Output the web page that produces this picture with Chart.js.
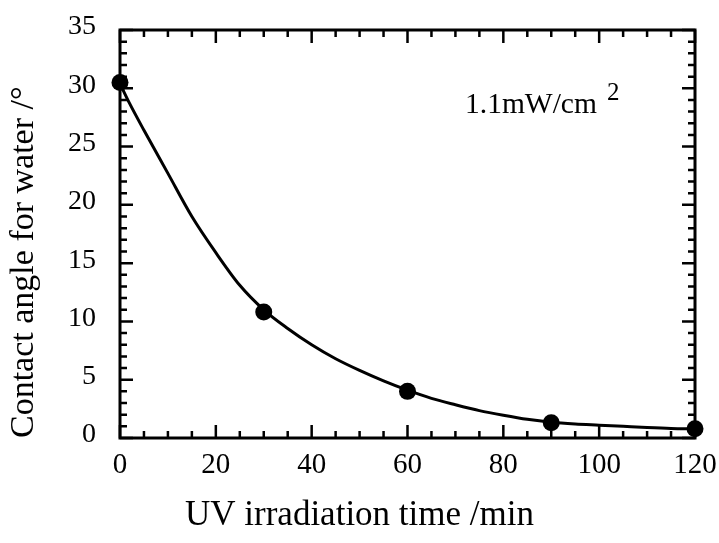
<!DOCTYPE html>
<html><head><meta charset="utf-8">
<script src="https://cdn.jsdelivr.net/npm/chart.js@4"></script>
<style>html,body{margin:0;padding:0;background:#fff}#wrap{width:719px;height:543px;position:relative}</style>
</head><body><div id="wrap"><canvas id="c"></canvas></div>
<script>
// ---- data ----
const timeMin = [0, 30, 60, 90, 120];
const contactAngle = [30.5, 10.8, 4.0, 1.3, 0.8];
const fitTime  = [0, 2, 5, 10, 15, 20, 25, 30, 35, 40, 45, 50, 55, 60, 65, 70, 75, 80, 85, 90, 95, 100, 105, 110, 115, 120];
const fitAngle = [30.4, 28.7, 26.4, 22.7, 19.0, 15.9, 13.1, 11.0, 9.4, 8.0, 6.8, 5.8, 4.9, 4.1, 3.4, 2.85, 2.35, 1.95, 1.6, 1.35, 1.2, 1.1, 1.0, 0.9, 0.82, 0.78];
const xTickValues = [0, 20, 40, 60, 80, 100, 120];
const yTickValues = [0, 5, 10, 15, 20, 25, 30, 35];
const xTitle = 'UV irradiation time /min';
const yTitle = 'Contact angle for water /\u00B0';
const noteText = '1.1mW/cm';
const noteSup = '2';

const FONT = "'Liberation Serif', 'Times New Roman', serif";

const framePlugin = {
  id: 'frameTicks',
  beforeDatasetsDraw(chart) {
    const {ctx, chartArea: a, scales: {x, y}} = chart;
    ctx.save();
    ctx.strokeStyle = '#000';
    ctx.lineWidth = 3;
    ctx.strokeRect(a.left, a.top, a.right - a.left, a.bottom - a.top);
    ctx.lineWidth = 2.5;
    ctx.beginPath();
    for (let v = x.min; v <= x.max + 1e-9; v += 5) {
      const px = x.getPixelForValue(v);
      const len = (v % 20 === 0) ? 13 : 7;
      ctx.moveTo(px, a.bottom); ctx.lineTo(px, a.bottom - len);
      ctx.moveTo(px, a.top); ctx.lineTo(px, a.top + len);
    }
    for (let v = y.min; v <= y.max + 1e-9; v += 1) {
      const py = y.getPixelForValue(v);
      const len = (v % 5 === 0) ? 13 : 7;
      ctx.moveTo(a.left, py); ctx.lineTo(a.left + len, py);
      ctx.moveTo(a.right, py); ctx.lineTo(a.right - len, py);
    }
    ctx.stroke();
    ctx.restore();
  },
  afterDraw(chart) {
    const {ctx, scales: {x, y}} = chart;
    ctx.save();
    ctx.fillStyle = '#000';
    ctx.textBaseline = 'alphabetic';
    ctx.textAlign = 'left';
    ctx.font = '29.5px ' + FONT;
    const px = x.getPixelForValue(72);
    const py = y.getPixelForValue(27.9);
    ctx.fillText(noteText, px, py);
    const w = ctx.measureText(noteText).width;
    ctx.font = '25px ' + FONT;
    ctx.fillText(noteSup, px + w + 10, py - 13);
    ctx.restore();
  }
};

new Chart(document.getElementById('c'), {
  type: 'scatter',
  data: {
    datasets: [
      {
        label: 'fit',
        data: fitTime.map((t, i) => ({x: t, y: fitAngle[i]})),
        showLine: true,
        borderColor: '#000',
        borderWidth: 3,
        pointRadius: 0,
        pointHoverRadius: 0,
        cubicInterpolationMode: 'monotone',
        fill: false,
        clip: false
      },
      {
        label: 'measured',
        data: timeMin.map((t, i) => ({x: t, y: contactAngle[i]})),
        showLine: false,
        pointRadius: 8.5,
        pointBackgroundColor: '#000',
        pointBorderColor: '#000',
        pointBorderWidth: 0,
        clip: false
      }
    ]
  },
  options: {
    responsive: true,
    maintainAspectRatio: false,
    animation: false,
    devicePixelRatio: 1,
    layout: {padding: {top: 30, right: 0, left: 0, bottom: 0}},
    plugins: {
      legend: {display: false},
      tooltip: {enabled: false},
      title: {display: true, position: 'bottom', text: xTitle, color: '#000',
              font: {family: FONT, size: 35, weight: 'normal'}, padding: {top: 0, bottom: 6}}
    },
    scales: {
      x: {
        type: 'linear', position: 'bottom', min: 0, max: 120,
        afterBuildTicks: s => { s.ticks = xTickValues.map(v => ({value: v})); },
        afterFit: s => { s.height = 57; s.paddingLeft = 0; s.paddingRight = 0; },
        grid: {display: false, drawTicks: false},
        border: {display: false},
        ticks: {color: '#000', font: {family: FONT, size: 29}, padding: 10, maxRotation: 0, autoSkip: false}
      },
      y: {
        type: 'linear', position: 'left', min: 0, max: 35,
        afterBuildTicks: s => { s.ticks = yTickValues.map(v => ({value: v})); },
        afterFit: s => { s.width = 120; s.paddingTop = 0; s.paddingBottom = 0; },
        grid: {display: false, drawTicks: false},
        border: {display: false},
        ticks: {color: '#000', font: {family: FONT, size: 28}, padding: 24, labelOffset: -3, autoSkip: false},
        title: {display: true, align: 'start', text: yTitle, color: '#000', font: {family: FONT, size: 34}, padding: {top: 4, bottom: 0}}
      },
      yRightSpace: {
        type: 'linear', position: 'right', min: 0, max: 35, display: true,
        afterFit: s => { s.width = 24; s.paddingTop = 0; s.paddingBottom = 0; },
        grid: {display: false, drawTicks: false},
        border: {display: false},
        ticks: {display: false}
      }
    }
  },
  plugins: [framePlugin]
});
</script></body></html>
